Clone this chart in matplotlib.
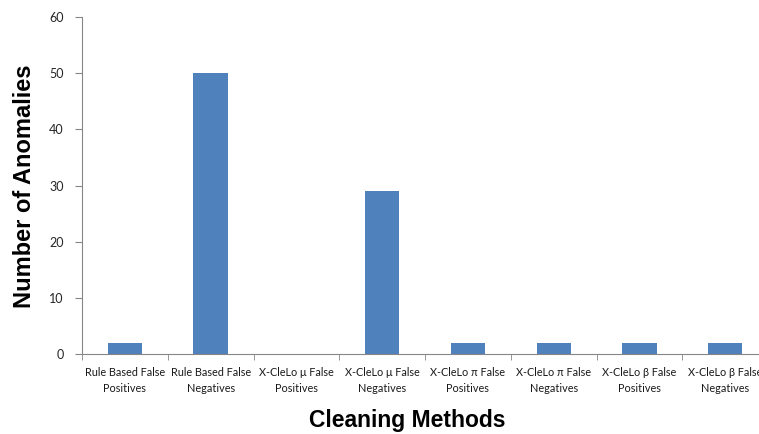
import numpy as np
import matplotlib.pyplot as plt

categories = [
    "Rule Based False\nPositives",
    "Rule Based False\nNegatives",
    "X-CleLo \u03bc False\nPositives",
    "X-CleLo \u03bc False\nNegatives",
    "X-CleLo \u03c0 False\nPositives",
    "X-CleLo \u03c0 False\nNegatives",
    "X-CleLo \u03b2 False\nPositives",
    "X-CleLo \u03b2 False\nNegatives",
]
anomalies = [2, 50, 0, 29, 2, 2, 2, 2]
y_ticks = [0, 10, 20, 30, 40, 50, 60]

axis_grey = "#868686"

fig = plt.figure(figsize=(7.59, 4.34), dpi=100)
ax = fig.add_axes([0.108, 0.184, 0.904, 0.777])

x = np.arange(len(categories))
ax.bar(x, anomalies, width=0.4, color="#4F81BD")

ax.set_xlim(-0.5, len(categories) - 0.5)
ax.set_ylim(0, 60)
ax.set_yticks(y_ticks)
ax.set_yticklabels([str(v) for v in y_ticks], fontsize=9, color="#262626", family="Lato")

# category labels centred, tick marks on the boundaries
ax.set_xticks(x)
ax.set_xticklabels(categories, fontsize=7.8, family="Lato", color="#1a1a1a", linespacing=1.55)
ax.tick_params(axis="x", length=0, pad=9)
ax.set_xticks(np.arange(-0.5, len(categories), 1), minor=True)
ax.tick_params(axis="x", which="minor", length=4, color=axis_grey, direction="out")
ax.tick_params(axis="y", length=5, color=axis_grey, direction="out", pad=8)

for side in ["top", "right"]:
    ax.spines[side].set_visible(False)
ax.spines["left"].set_color(axis_grey)
ax.spines["bottom"].set_color(axis_grey)

fig.text(0.032, 0.572, "Number of Anomalies", fontsize=17, fontweight="bold",
         family="Liberation Sans", rotation=90, ha="center", va="center")
fig.text(0.536, 0.03, "Cleaning Methods", fontsize=16.5, fontweight="bold",
         family="Liberation Sans", ha="center", va="center")

fig.savefig("out.png", dpi=100)
